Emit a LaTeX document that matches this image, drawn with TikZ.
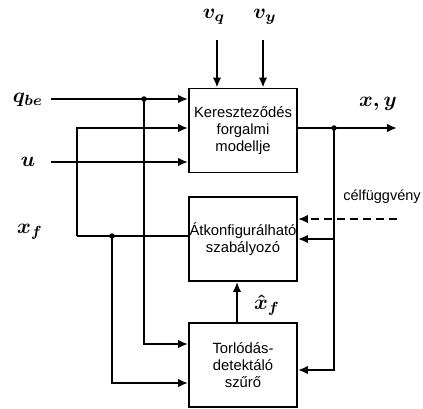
\documentclass[tikz,border=0pt]{standalone}
\usepackage[no-math]{fontspec}
\setsansfont{Liberation Sans}
\usetikzlibrary{arrows.meta}
\begin{document}
\begin{tikzpicture}[x=1pt,y=-1pt, line width=1.9pt, >={Latex[length=10pt,width=8.5pt]},
  blk/.style={draw, minimum width=108pt, minimum height=84pt, inner sep=0pt,
    font=\sffamily\fontsize{14.8}{17.3}\selectfont, align=center},
  lbl/.style={font=\boldmath, scale=2.1, inner sep=0pt},
  txt/.style={font=\sffamily\fontsize{14.5}{17}\selectfont, inner sep=0pt},
  jdot/.style={circle, fill, inner sep=0pt, minimum size=5.5pt}]
\useasboundingbox (0,0) rectangle (423,408);
% blocks
\node[blk] (b1) at (243,130.5) {Kereszteződés\\forgalmi\\modellje};
\node[blk] (b2) at (243,239) {Átkonfigurálható\\szabályozó};
\node[blk] (b3) at (243,365) {Torlódás-\\detektáló\\szűrő};
% labels
\node[lbl] (lvq) at (214,17) {$v_q$};
\node[lbl] (lvy) at (265,17) {$v_y$};
\node[lbl] (lq) at (28,100) {$q_{be}$};
\node[lbl] (lu) at (28,162) {$u$};
\node[lbl] (lxf) at (30,232) {$x_f$};
\node[lbl] (lxy) at (378,104) {$x,y$};
\node[lbl] (lxh) at (267,305) {$\hat{x}_f$};
\node[txt] (lcf) at (382,197) {célfüggvény};
% free ends
\coordinate (vqs) at (217,40);
\coordinate (vys) at (263,40);
\coordinate (qin) at (51,99);
\coordinate (uin) at (51,162);
\coordinate (xf) at (77,236);
\coordinate (out) at (397,128);
\coordinate (cf) at (397,219);
% junctions
\node[jdot] (d1) at (144,99) {};
\node[jdot] (d2) at (112,236) {};
\node[jdot] (d3) at (334,128) {};
% connectors
\draw[->] (vqs) -- (vqs |- b1.north);
\draw[->] (vys) -- (vys |- b1.north);
\draw[->] (qin) -- (qin -| b1.west);
\draw[->] (uin) -- (uin -| b1.west);
\draw[->] (xf) |- ([yshift=2.5pt]b1.west);
\draw (xf) -- (xf -| b2.west);
\draw[->] (d1.center) |- ([yshift=21pt]b3.west);
\draw[->] (d2.center) |- ([yshift=-18pt]b3.west);
\draw[->] ([yshift=2.5pt]b1.east) -- (out);
\draw[->] (d3.center) |- ([yshift=-5pt]b3.east);
\draw[->] (d3 |- b2.east) -- (b2.east);
\draw[->, dash pattern=on 8pt off 5pt] (cf) -- (cf -| b2.east);
\draw[->] ([xshift=-6pt]b3.north) -- ([xshift=-6pt]b2.south);
\end{tikzpicture}
\end{document}
